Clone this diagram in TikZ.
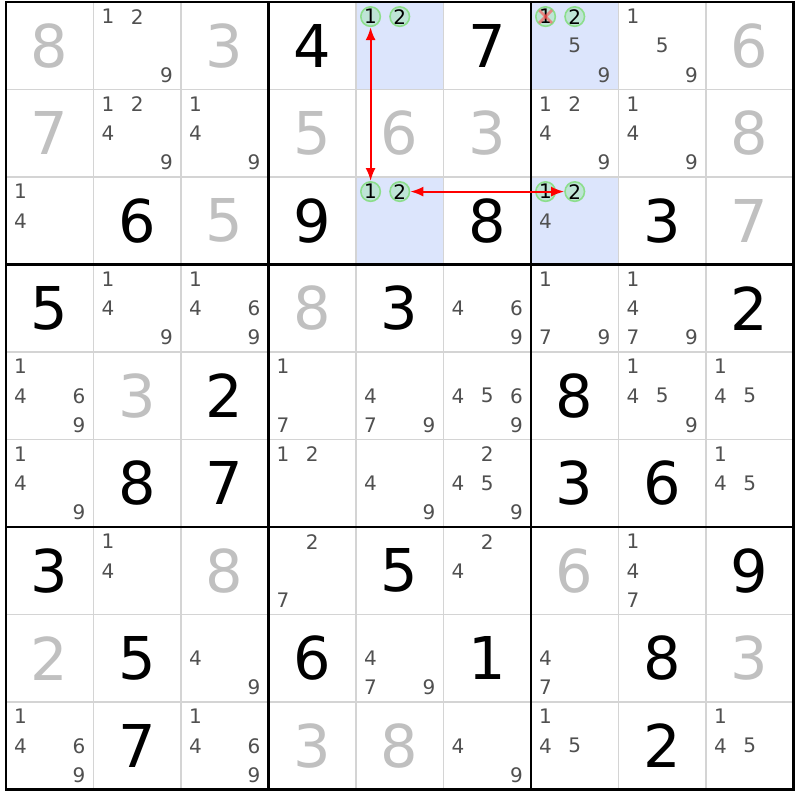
\documentclass[tikz,border=0pt]{standalone}
\usepackage{fontspec}
\setmainfont{DejaVu Sans}
\usetikzlibrary{arrows.meta}
\definecolor{solvedgray}{RGB}{192,192,192}
\definecolor{candgray}{RGB}{80,80,80}
\definecolor{cellblue}{RGB}{220,229,252}
\definecolor{thingrid}{RGB}{212,212,212}
\definecolor{ringgreen}{RGB}{140,222,140}
\definecolor{ringfill}{RGB}{190,228,214}
\definecolor{linkred}{RGB}{255,0,0}

\begin{document}
\begin{tikzpicture}[x=87.5pt,y=-87.5pt]
  \tikzstyle{given}=[font=\fontsize{59}{59}\selectfont,inner sep=0pt]
  \tikzstyle{solved}=[given,text=solvedgray]
  \tikzstyle{cand}=[font=\fontsize{20}{20}\selectfont,text=candgray,inner sep=0pt]
  \tikzstyle{linked}=[cand,circle,draw=ringgreen,fill=ringfill,line width=1.6pt,minimum size=19.5pt,text=black]
  \tikzstyle{link}=[draw=linkred,line width=2pt,{Latex[length=13pt,width=10pt]}-{Latex[length=13pt,width=10pt]}]
  \tikzstyle{strike}=[red!70,line width=2.8pt,opacity=.6,shorten >=1.5pt,shorten <=1.5pt]
  \useasboundingbox (-6pt,2pt) rectangle (794pt,-798pt);
  \fill[white] (-6pt,2pt) rectangle (794pt,-798pt);
  % highlighted cells
  \foreach \r/\c in {0/4,0/6,2/4,2/6}
    \fill[cellblue] (\c,\r) rectangle ++(1,1);
  % grid
  \foreach \i in {1,2,4,5,7,8} {
    \draw[thingrid,line width=1.2pt] (\i,0) -- (\i,9);
    \draw[thingrid,line width=1.2pt] (0,\i) -- (9,\i);
  }
  \foreach \i in {3,6} {
    \draw[line width=2.8pt] (\i,0) -- (\i,9);
    \draw[line width=2.8pt] (0,\i) -- (9,\i);
  }
  \draw[line width=2.8pt] (0,0) rectangle (9,9);
  % givens
  \foreach \r/\c/\d in {0/3/4,0/5/7,2/1/6,2/3/9,2/5/8,2/7/3,3/0/5,3/4/3,3/8/2,
      4/2/2,4/6/8,5/1/8,5/2/7,5/6/3,5/7/6,6/0/3,6/4/5,6/8/9,7/1/5,7/3/6,
      7/5/1,7/7/8,8/1/7,8/7/2}
    \node[given] (g-\r-\c) at (\c+.5,\r+.5) {\d};
  % solved
  \foreach \r/\c/\d in {0/0/8,0/2/3,0/8/6,1/0/7,1/3/5,1/4/6,1/5/3,1/8/8,2/2/5,
      2/8/7,3/3/8,4/1/3,6/2/8,6/6/6,7/0/2,7/8/3,8/3/3,8/4/8}
    \node[solved] (s-\r-\c) at (\c+.5,\r+.5) {\d};
  % candidates
  \foreach \r/\c/\ds in {0/1/{1,2,9},0/6/{5,9},0/7/{1,5,9},
      1/1/{1,2,4,9},1/2/{1,4,9},1/6/{1,2,4,9},1/7/{1,4,9},
      2/0/{1,4},2/6/{4},
      3/1/{1,4,9},3/2/{1,4,6,9},3/5/{4,6,9},3/6/{1,7,9},3/7/{1,4,7,9},
      4/0/{1,4,6,9},4/3/{1,7},4/4/{4,7,9},4/5/{4,5,6,9},4/7/{1,4,5,9},4/8/{1,4,5},
      5/0/{1,4,9},5/3/{1,2},5/4/{4,9},5/5/{2,4,5,9},5/8/{1,4,5},
      6/1/{1,4},6/3/{2,7},6/5/{2,4},6/7/{1,4,7},
      7/2/{4,9},7/4/{4,7,9},7/6/{4,7},
      8/0/{1,4,6,9},8/2/{1,4,6,9},8/5/{4,9},8/6/{1,4,5},8/8/{1,4,5}}
    \foreach \d in \ds {
      \pgfmathsetmacro\px{\c+(mod(\d-1,3)+0.5)/3}
      \pgfmathsetmacro\py{\r+(int((\d-1)/3)+0.5)/3}
      \node[cand] (k-\r-\c-\d) at (\px,\py) {\d};
    }
  % linked pair
  \foreach \r/\c in {0/4,0/6,2/4,2/6}
    \foreach \d in {1,2}
      \node[linked] (k-\r-\c-\d) at (\c+\d/3-1/6,\r+1/6) {\d};
  \draw[strike] (k-0-6-1.north west) -- (k-0-6-1.south east);
  \draw[strike] (k-0-6-1.north east) -- (k-0-6-1.south west);
  \draw[link] (k-0-4-1) -- (k-2-4-1);
  \draw[link] (k-2-4-2) -- (k-2-6-2);
\end{tikzpicture}
\end{document}
